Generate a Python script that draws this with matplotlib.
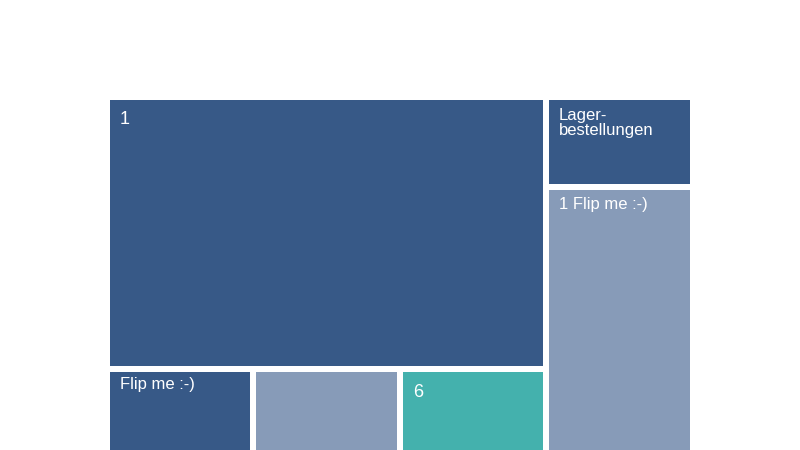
import matplotlib
matplotlib.use("Agg")
import matplotlib.pyplot as plt
from matplotlib.patches import Rectangle

plt.rcParams['font.family'] = ['Liberation Sans', 'DejaVu Sans']

# Data (hierarchical treemap)
left_labels = ["1", "Flip me :-)", "", "6"]
left_values = [70.4, 9.87, 9.87, 9.87]
right_labels = ["Lager-\nbestellungen", "1 Flip me :-)"]
right_values = [7.8, 25.7]

DARK = "#375987"
LIGHT = "#879bb8"
TEAL = "#44b1ad"
left_colors = [DARK, DARK, LIGHT, TEAL]
right_colors = [DARK, LIGHT]
left_fsize = [13, 12, 12, 13]
right_fsize = [12, 12]
left_dy = [11, 5, 0, 12]
right_dy = [8, 7]

fig = plt.figure(figsize=(8, 4.5), dpi=100)
ax = fig.add_axes([0, 0, 1, 1])
ax.set_xlim(0, 800)
ax.set_ylim(450, 0)
ax.axis("off")

# Outer area of the treemap (in pixel-like axis units)
X0, Y0, W, H = 107, 97, 586, 386
GAP = 3

def draw(x, y, w, h, color, label, fs, dy):
    ax.add_patch(Rectangle((x + GAP, y + GAP), w - 2 * GAP, h - 2 * GAP,
                           facecolor=color, edgecolor="none"))
    if label:
        ax.text(x + GAP + 10, y + GAP + dy, label, color="white", fontsize=fs,
                ha="left", va="top", linespacing=1.0)

total = sum(left_values) + sum(right_values)
wl = W * sum(left_values) / total
wr = W - wl

# Left group: big tile on top, remaining in a row below
lsum = sum(left_values)
hbig = H * left_values[0] / lsum
draw(X0, Y0, wl, hbig, left_colors[0], left_labels[0], left_fsize[0], left_dy[0])
rest = left_values[1:]
rsum = sum(rest)
cx = X0
for i, v in enumerate(rest, start=1):
    w = wl * v / rsum
    draw(cx, Y0 + hbig, w, H - hbig, left_colors[i], left_labels[i], left_fsize[i], left_dy[i])
    cx += w

# Right group: stacked vertically
rs = sum(right_values)
cy = Y0
for i, v in enumerate(right_values):
    h = H * v / rs
    draw(X0 + wl, cy, wr, h, right_colors[i], right_labels[i], right_fsize[i], right_dy[i])
    cy += h

fig.savefig("out.png", dpi=100)
